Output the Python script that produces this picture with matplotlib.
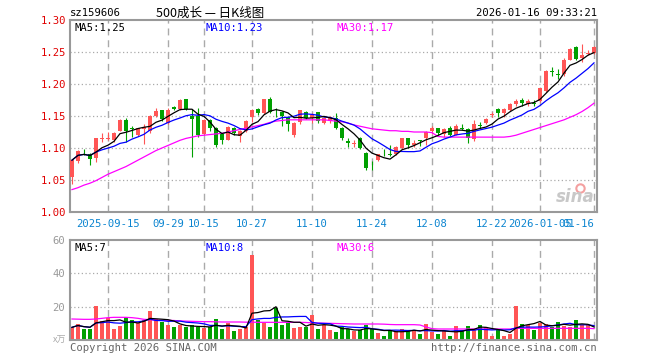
import matplotlib
matplotlib.use("Agg")
import matplotlib.pyplot as plt
import numpy as np
import pandas as pd

# ---------------- data ----------------
dates = ["2025-09-15", "09-29", "10-15", "10-27", "11-10", "11-24", "12-08", "12-22", "2026-01-05", "01-16"]
date_idx = [6, 16, 22, 30, 40, 50, 60, 70, 78, 87]

opens = [1.054, 1.079, 1.094, 1.090, 1.084, 1.114, 1.114, 1.112, 1.126, 1.143,
         1.131, 1.121, 1.130, 1.126, 1.150, 1.159, 1.139, 1.164, 1.161, 1.177,
         1.150, 1.150, 1.122, 1.143, 1.131, 1.122, 1.113, 1.131, 1.118, 1.126,
         1.148, 1.161, 1.155, 1.177, 1.155, 1.157, 1.148, 1.121, 1.141, 1.157,
         1.147, 1.156, 1.139, 1.142, 1.147, 1.132, 1.111, 1.107, 1.116, 1.092,
         1.077, 1.081, 1.091, 1.090, 1.090, 1.100, 1.115, 1.104, 1.112, 1.115,
         1.126, 1.131, 1.122, 1.132, 1.121, 1.131, 1.129, 1.114, 1.136, 1.139,
         1.151, 1.161, 1.155, 1.160, 1.168, 1.175, 1.168, 1.171, 1.173, 1.189,
         1.220, 1.215, 1.216, 1.238, 1.258, 1.241, 1.247, 1.248]
highs = [1.081, 1.097, 1.099, 1.092, 1.115, 1.123, 1.125, 1.125, 1.146, 1.147,
         1.134, 1.132, 1.138, 1.151, 1.162, 1.160, 1.162, 1.165, 1.177, 1.177,
         1.161, 1.162, 1.145, 1.145, 1.133, 1.124, 1.135, 1.133, 1.128, 1.143,
         1.161, 1.163, 1.177, 1.179, 1.162, 1.158, 1.149, 1.140, 1.160, 1.158,
         1.155, 1.157, 1.148, 1.150, 1.154, 1.133, 1.116, 1.113, 1.117, 1.093,
         1.079, 1.091, 1.098, 1.104, 1.103, 1.116, 1.116, 1.112, 1.113, 1.126,
         1.134, 1.132, 1.132, 1.135, 1.137, 1.137, 1.131, 1.143, 1.141, 1.147,
         1.157, 1.162, 1.163, 1.170, 1.177, 1.178, 1.176, 1.175, 1.194, 1.222,
         1.227, 1.224, 1.240, 1.256, 1.259, 1.263, 1.253, 1.259]
lows = [1.043, 1.077, 1.089, 1.074, 1.078, 1.110, 1.112, 1.110, 1.126, 1.110,
        1.117, 1.118, 1.106, 1.124, 1.148, 1.142, 1.137, 1.160, 1.160, 1.160,
        1.086, 1.117, 1.120, 1.126, 1.101, 1.106, 1.112, 1.120, 1.109, 1.125,
        1.140, 1.152, 1.153, 1.155, 1.148, 1.134, 1.127, 1.117, 1.137, 1.145,
        1.139, 1.139, 1.138, 1.139, 1.129, 1.113, 1.101, 1.101, 1.099, 1.066,
        1.065, 1.079, 1.087, 1.087, 1.089, 1.099, 1.100, 1.102, 1.103, 1.105,
        1.122, 1.120, 1.117, 1.119, 1.120, 1.128, 1.108, 1.111, 1.131, 1.138,
        1.149, 1.149, 1.149, 1.158, 1.166, 1.165, 1.165, 1.165, 1.172, 1.188,
        1.212, 1.208, 1.212, 1.237, 1.238, 1.235, 1.245, 1.247]
closes = [1.081, 1.096, 1.093, 1.083, 1.115, 1.115, 1.116, 1.123, 1.143, 1.126,
          1.129, 1.131, 1.133, 1.150, 1.158, 1.146, 1.160, 1.161, 1.175, 1.161,
          1.146, 1.121, 1.144, 1.131, 1.104, 1.113, 1.133, 1.123, 1.127, 1.142,
          1.160, 1.154, 1.176, 1.156, 1.154, 1.150, 1.138, 1.139, 1.159, 1.147,
          1.152, 1.142, 1.147, 1.148, 1.132, 1.115, 1.108, 1.108, 1.100, 1.068,
          1.076, 1.090, 1.090, 1.089, 1.102, 1.115, 1.105, 1.108, 1.111, 1.125,
          1.131, 1.123, 1.130, 1.121, 1.135, 1.130, 1.116, 1.138, 1.134, 1.146,
          1.153, 1.155, 1.161, 1.168, 1.174, 1.171, 1.173, 1.169, 1.193, 1.221,
          1.219, 1.214, 1.238, 1.254, 1.239, 1.246, 1.248, 1.258]
ma30 = [1.035, 1.038, 1.042, 1.045, 1.049, 1.054, 1.059, 1.063, 1.067, 1.071,
        1.076, 1.081, 1.086, 1.091, 1.096, 1.100, 1.104, 1.108, 1.112, 1.115,
        1.117, 1.119, 1.120, 1.121, 1.122, 1.123, 1.125, 1.127, 1.129, 1.131,
        1.133, 1.135, 1.137, 1.140, 1.142, 1.143, 1.144, 1.144, 1.144, 1.144,
        1.144, 1.144, 1.144, 1.143, 1.142, 1.141, 1.139, 1.136, 1.134, 1.132,
        1.130, 1.129, 1.128, 1.127, 1.127, 1.126, 1.126, 1.125, 1.125, 1.125,
        1.124, 1.118, 1.117, 1.117, 1.117, 1.117, 1.117, 1.117, 1.117, 1.117,
        1.117, 1.117, 1.117, 1.118, 1.120, 1.123, 1.126, 1.129, 1.132, 1.135,
        1.138, 1.141, 1.144, 1.148, 1.152, 1.157, 1.163, 1.170]
volumes = [7.6, 9.8, 6.6, 6.6, 20.6, 11.2, 13.2, 6.6, 8.6, 13.8,
           11.8, 10.2, 11.8, 17.2, 12.6, 10.6, 8.8, 7.6, 8.8, 7.6,
           9.2, 7.6, 7.0, 7.8, 12.8, 6.4, 10.2, 5.2, 6.6, 7.6,
           50.8, 12.2, 10.0, 7.6, 19.2, 8.8, 10.6, 7.0, 7.6, 7.6,
           15.2, 6.8, 8.8, 6.2, 4.6, 7.6, 6.6, 5.2, 5.8, 9.2,
           6.6, 4.2, 2.6, 6.2, 5.2, 6.6, 5.2, 6.2, 3.8, 9.8,
           4.6, 3.8, 5.2, 2.2, 8.6, 6.2, 8.6, 6.2, 9.2, 7.8,
           2.6, 5.8, 2.6, 3.8, 20.6, 9.8, 9.2, 5.8, 10.2, 9.8,
           7.8, 10.6, 8.6, 7.8, 12.2, 9.2, 9.2, 0.8]
vol_ma30 = [12.6, 12.5, 12.4, 12.4, 12.6, 13.0, 13.4, 13.6, 13.6, 13.6,
            13.4, 13.0, 12.4, 12.2, 12.0, 11.8, 11.8, 11.7, 11.5, 11.3,
            11.2, 11.1, 11.0, 11.0, 10.9, 10.8, 10.8, 10.8, 10.8, 10.7,
            10.7, 10.6, 10.6, 10.6, 10.6, 10.6, 10.6, 10.6, 10.6, 10.5,
            10.3, 10.2, 10.1, 10.0, 9.9, 9.8, 9.7, 9.6, 9.6, 9.6,
            9.6, 9.6, 9.5, 9.3, 9.2, 9.2, 9.2, 9.2, 9.0, 7.8,
            6.8, 6.6, 6.6, 6.6, 6.6, 6.6, 6.6, 6.6, 6.6, 6.6,
            6.6, 6.6, 6.6, 6.6, 7.0, 7.0, 7.0, 7.0, 7.0, 7.0,
            7.0, 7.0, 7.0, 7.0, 7.0, 7.0, 7.0, 6.8]
price_ticks = [1.00, 1.05, 1.10, 1.15, 1.20, 1.25, 1.30]
vol_ticks = [20, 40, 60]

# ---------------- styling ----------------
UP = "#ff5555"
DOWN = "#00a000"
GRID = "#aaaaaa"
FRAME = "#999999"
MONO = "DejaVu Sans Mono"
CJK = ["Noto Sans CJK SC", "DejaVu Sans"]

n = len(closes)
x = np.arange(n)
o = np.array(opens); c = np.array(closes); h = np.array(highs); l = np.array(lows)
up = c >= o
ma5 = pd.Series(closes).rolling(5, min_periods=1).mean().values
ma10 = pd.Series(closes).rolling(10, min_periods=1).mean().values
v = np.array(volumes)
vma5 = pd.Series(volumes).rolling(5, min_periods=1).mean().values
vma10 = pd.Series(volumes).rolling(10, min_periods=1).mean().values

W, H = 660, 360
fig = plt.figure(figsize=(W / 100, H / 100), dpi=100)
fig.patch.set_facecolor("white")

def px_rect(l_, t_, r_, b_):
    return [l_ / W, 1 - b_ / H, (r_ - l_) / W, (b_ - t_) / H]

ax = fig.add_axes(px_rect(70, 20, 597, 212))
axv = fig.add_axes(px_rect(70, 240, 597, 340))
XL = (-0.33, 87.5)

for a in (ax, axv):
    a.set_xlim(*XL)
    for s in a.spines.values():
        s.set_color(FRAME)
        s.set_linewidth(1.5)
    a.tick_params(length=0)
    for xi in date_idx:
        a.axvline(xi, color=GRID, lw=1.0, ls=(0, (5, 3.5)), zorder=0)

# ---- price panel ----
ax.set_ylim(1.00, 1.30)
for yv in price_ticks[1:-1]:
    ax.axhline(yv, color=GRID, lw=0.9, ls=(0, (1, 2)), zorder=0)
bw = 0.82
cols = np.where(up, UP, DOWN)
ax.vlines(x, l, h, colors=cols, lw=0.8, zorder=2)
body_b = np.minimum(o, c)
body_h = np.maximum(np.abs(c - o), 0.0012)
ax.bar(x, body_h, bottom=body_b, width=bw, color=cols, linewidth=0, zorder=3)
ax.plot(x, ma30, color="#ff00ff", lw=0.9, zorder=4)
ax.plot(x, ma10, color="#0000ff", lw=0.9, zorder=4)
ax.plot(x, ma5, color="#000000", lw=0.9, zorder=4)
ax.set_yticks(price_ticks)
ax.set_yticklabels([f"{t:.2f}" for t in price_ticks], color="#e00000", family=MONO, fontsize=7.6)
ax.tick_params(axis="y", pad=3)
ax.set_xticks(date_idx)
ax.set_xticklabels(dates, color="#0a84d0", family=MONO, fontsize=7.6)
ax.tick_params(axis="x", pad=5)
ax.get_xticklabels()[-1].set_horizontalalignment("right")

ax.text(0.008, 0.985, "MA5:1.25", transform=ax.transAxes, va="top", ha="left",
        family=MONO, fontsize=7.6, color="#000000")
ax.text(0.257, 0.985, "MA10:1.23", transform=ax.transAxes, va="top", ha="left",
        family=MONO, fontsize=7.6, color="#0000ff")
ax.text(0.505, 0.985, "MA30:1.17", transform=ax.transAxes, va="top", ha="left",
        family=MONO, fontsize=7.6, color="#ff00ff")
ax.text(0.995, 0.03, "sina", transform=ax.transAxes, va="bottom", ha="right",
        fontsize=12, fontweight="bold", style="italic", color="#c8c8c8", family="DejaVu Sans")
ax.plot([84.6], [1.038], marker="o", ms=6, mfc="none", mec="#f4a0a0", mew=1.5, zorder=1)

# ---- volume panel ----
axv.set_ylim(0, 60)
for yv in vol_ticks[:-1]:
    axv.axhline(yv, color=GRID, lw=0.9, ls=(0, (1, 2)), zorder=0)
axv.bar(x, v, width=bw, color=cols, linewidth=0, zorder=2)
axv.plot(x, vol_ma30, color="#ff00ff", lw=0.9, zorder=3)
axv.plot(x, vma10, color="#0000ff", lw=0.9, zorder=3)
axv.plot(x, vma5, color="#000000", lw=0.9, zorder=3)
axv.set_yticks(vol_ticks)
axv.set_yticklabels([str(t) for t in vol_ticks], color="#999999", family=MONO, fontsize=7.6)
axv.set_xticks([])
axv.text(0.008, 0.97, "MA5:7", transform=axv.transAxes, va="top", ha="left",
         family=MONO, fontsize=7.6, color="#000000")
axv.text(0.257, 0.97, "MA10:8", transform=axv.transAxes, va="top", ha="left",
         family=MONO, fontsize=7.6, color="#0000ff")
axv.text(0.505, 0.97, "MA30:6", transform=axv.transAxes, va="top", ha="left",
         family=MONO, fontsize=7.6, color="#ff00ff")

# ---- header / footer ----
fig.text(70 / W, 1 - 13 / H, "sz159606", family=MONO, fontsize=7.6, va="center", ha="left")
fig.text(210 / W, 1 - 13 / H, "500成长 — 日K线图", family=CJK, fontsize=9, va="center", ha="center")
fig.text(597 / W, 1 - 13 / H, "2026-01-16 09:33:21", family=MONO, fontsize=7.6, va="center", ha="right")
fig.text(66 / W, 1 - 340 / H, "x万", family=CJK, fontsize=6.5, va="center", ha="right", color="#aaaaaa")
fig.text(70 / W, 1 - 348 / H, "Copyright 2026 SINA.COM", family=MONO, fontsize=7.6, va="center",
         ha="left", color="#666666")
fig.text(597 / W, 1 - 348 / H, "http://finance.sina.com.cn", family=MONO, fontsize=7.6, va="center",
         ha="right", color="#666666")

fig.savefig("out.png", dpi=100, facecolor="white")
